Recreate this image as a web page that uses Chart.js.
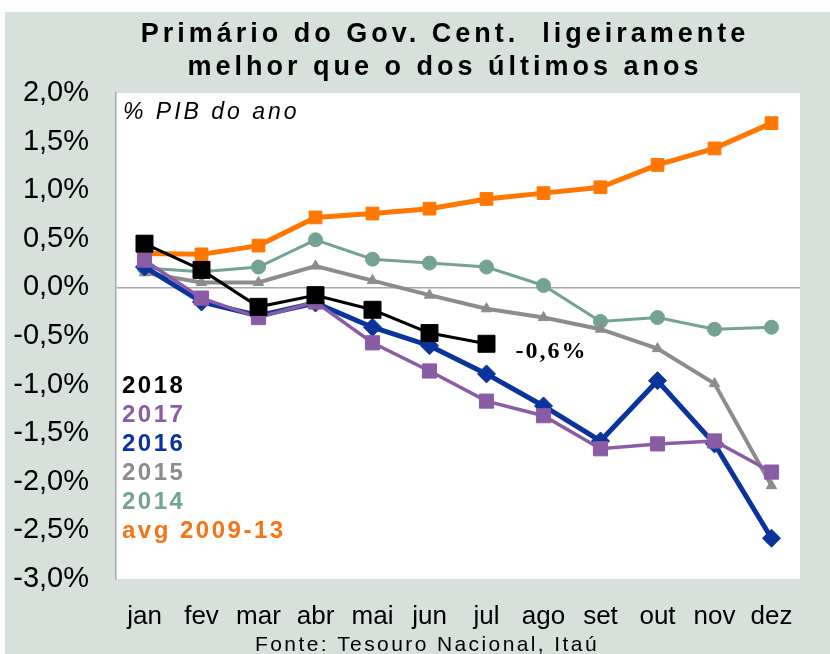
<!DOCTYPE html>
<html>
<head>
<meta charset="utf-8">
<script src="https://cdn.jsdelivr.net/npm/chart.js@4"></script>
<style>
  body { margin: 0; background: #fff; }
  #quadro { position: absolute; left: 5px; top: 12px; width: 825px; height: 642px; background: #d6e1dc; }
</style>
</head>
<body>
<div id="quadro"><canvas id="grafico01" width="825" height="642"></canvas></div>
<script>
// Dados (% PIB do ano)
const meses = ["jan", "fev", "mar", "abr", "mai", "jun", "jul", "ago", "set", "out", "nov", "dez"];
const s2018 = [0.45, 0.18, -0.20, -0.08, -0.23, -0.47, -0.58];
const s2017 = [0.28, -0.11, -0.31, -0.15, -0.57, -0.86, -1.17, -1.32, -1.66, -1.61, -1.58, -1.90];
const s2016 = [0.21, -0.15, -0.29, -0.16, -0.41, -0.60, -0.89, -1.22, -1.58, -0.96, -1.61, -2.58];
const s2015 = [0.15, 0.05, 0.05, 0.22, 0.07, -0.08, -0.22, -0.31, -0.43, -0.63, -0.99, -2.04];
const s2014 = [0.20, 0.16, 0.21, 0.49, 0.29, 0.25, 0.21, 0.02, -0.35, -0.31, -0.43, -0.41];
const sMedia = [0.35, 0.34, 0.43, 0.72, 0.76, 0.81, 0.91, 0.97, 1.03, 1.26, 1.43, 1.69];
const yTicks = [2, 1.5, 1, 0.5, 0, -0.5, -1, -1.5, -2, -2.5, -3];

const titulo = ["Primário do Gov. Cent.  ligeiramente", "melhor que o dos últimos anos"];
const legendas = [
  ["2018", "#000000"],
  ["2017", "#8a5ca6"],
  ["2016", "#0a339c"],
  ["2015", "#8c8c8c"],
  ["2014", "#74a396"],
  ["avg 2009-13", "#f47417"]
];

const fmt = v => v.toFixed(1).replace(".", ",") + "%";
const fonte = "'Liberation Sans', Arial, sans-serif";

const textos = {
  id: "textos",
  beforeDraw(chart) {
    const { ctx, chartArea: a } = chart;
    ctx.save();
    ctx.fillStyle = "#ffffff";
    ctx.fillRect(a.left, a.top, a.right - a.left, a.bottom - a.top);
    ctx.restore();
  },
  afterDraw(chart) {
    const { ctx, chartArea: a, scales } = chart;
    ctx.save();

    // titulo
    ctx.fillStyle = "#000";
    ctx.textAlign = "center";
    ctx.textBaseline = "alphabetic";
    ctx.font = "bold 27px " + fonte;
    ctx.letterSpacing = "4px";
    ctx.fillText(titulo[0], 440, 30);
    ctx.fillText(titulo[1], 440, 63);

    ctx.textBaseline = "middle";
    // subtitulo
    ctx.textAlign = "left";
    ctx.font = "italic 23px " + fonte;
    ctx.letterSpacing = "3px";
    ctx.fillText("% PIB do ano", a.left + 7, a.top + 20);

    // legenda
    ctx.font = "bold 24px " + fonte;
    ctx.letterSpacing = "2.5px";
    legendas.forEach((l, i) => {
      ctx.fillStyle = l[1];
      ctx.fillText(l[0], a.left + 6, 374 + i * 29);
    });

    // rotulo do ultimo valor de 2018
    const ult = s2018.length - 1;
    const v = s2018[ult];
    ctx.fillStyle = "#000";
    ctx.font = "bold 24px 'Liberation Serif', 'Times New Roman', serif";
    ctx.letterSpacing = "2px";
    ctx.fillText(fmt(Math.round(v * 10) / 10),
      scales.x.getPixelForValue(ult) + 29, scales.y.getPixelForValue(v) + 8);

    // fonte
    ctx.textAlign = "center";
    ctx.textBaseline = "alphabetic";
    ctx.font = "21px " + fonte;
    ctx.letterSpacing = "2.4px";
    ctx.fillText("Fonte: Tesouro Nacional, Itaú", 422, 639);
    ctx.restore();
  }
};

const serie = (dados, cor, estilo, raio, espessura) => ({
  data: dados,
  borderColor: cor,
  backgroundColor: cor,
  pointStyle: estilo,
  pointRadius: raio,
  pointBorderWidth: 1,
  borderWidth: espessura,
  tension: 0,
  fill: false
});

new Chart(document.getElementById("grafico01"), {
  type: "line",
  data: {
    labels: meses,
    datasets: [
      serie(s2018, "#000000", "rect", 12, 3),
      serie(s2017, "#8a5ca6", "rect", 10, 3.5),
      serie(s2016, "#0a339c", "rectRot", 9, 5),
      serie(s2015, "#8c8c8c", "triangle", 6, 4),
      serie(s2014, "#74a396", "circle", 7, 3),
      serie(sMedia, "#ff7700", "rect", 9, 5)
    ]
  },
  plugins: [textos],
  options: {
    responsive: false,
    animation: false,
    layout: { padding: { top: 81, right: 30, left: 0, bottom: 0 } },
    plugins: {
      legend: { display: false },
      tooltip: { enabled: false }
    },
    scales: {
      x: {
        offset: true,
        grid: { display: false },
        border: { display: false },
        ticks: {
          color: "#000",
          padding: 14,
          maxRotation: 0,
          autoSkip: false,
          font: { family: fonte, size: 26 }
        },
        afterFit(scale) { scale.height = 75; }
      },
      y: {
        min: -3,
        max: 2,
        afterBuildTicks(scale) { scale.ticks = yTicks.map(v => ({ value: v })); },
        grid: {
          drawTicks: false,
          color: c => (c.tick && c.tick.value === 0 ? "#a8a8a8" : "rgba(0,0,0,0)"),
          lineWidth: 1.5
        },
        border: { display: true, color: "#a8a8a8", width: 1.5 },
        ticks: {
          color: "#000",
          padding: 27,
          callback: v => fmt(v),
          font: { family: fonte, size: 29 }
        },
        afterFit(scale) { scale.width = 111; }
      }
    }
  }
});
</script>
</body>
</html>
